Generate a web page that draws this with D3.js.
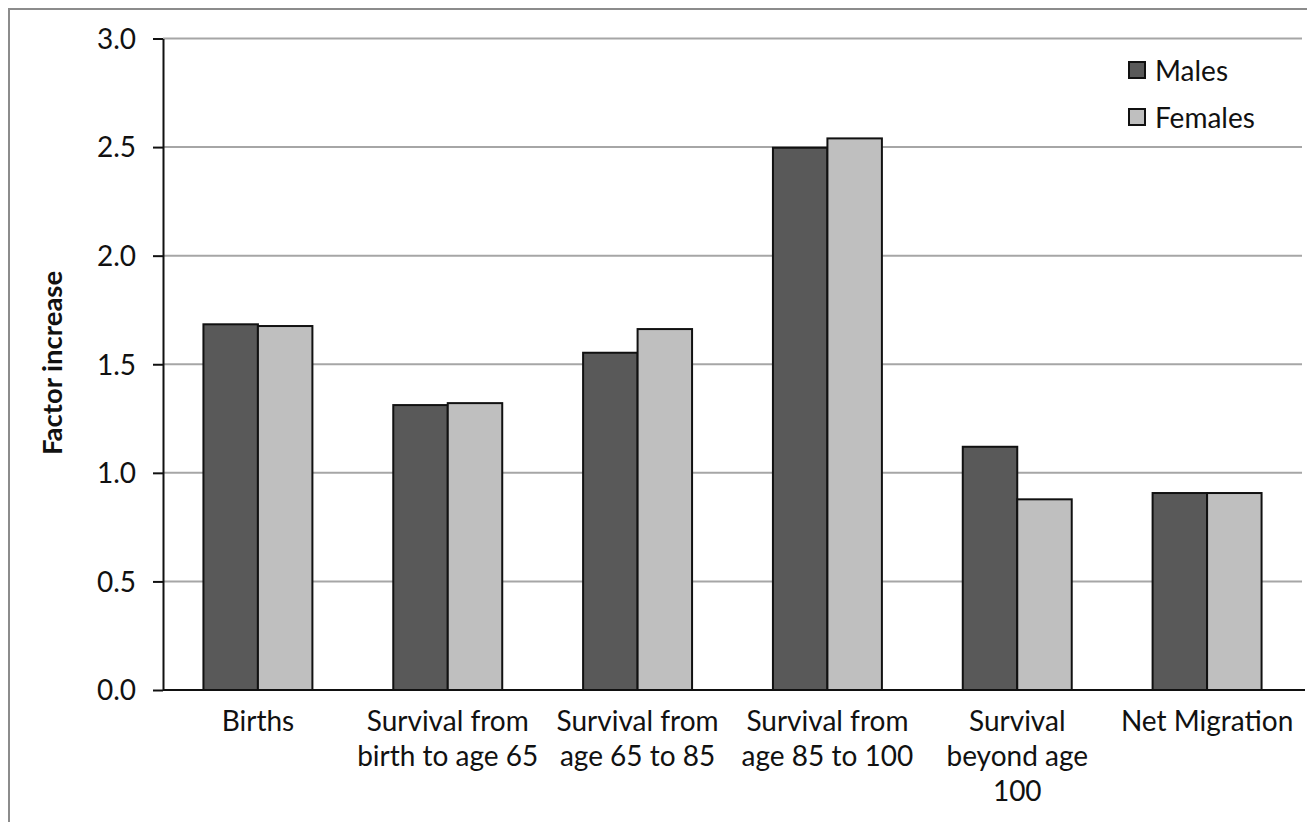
<!DOCTYPE html>
<html><head><meta charset="utf-8">
<script src="https://cdn.jsdelivr.net/npm/d3@7"></script>
<style>
body{margin:0;background:#fff}
svg{display:block}
text{font-family:Lato,"Open Sans",sans-serif;fill:#111}
</style>
</head><body>
<svg id="c" width="1307" height="822"></svg>
<script>
const categories = ["Births", "Survival from\nbirth to age 65", "Survival from\nage 65 to 85", "Survival from\nage 85 to 100", "Survival\nbeyond age\n100", "Net Migration"];
const series = ["Males", "Females"];
const males = [1.684, 1.312, 1.553, 2.497, 1.120, 0.907];
const females = [1.676, 1.321, 1.662, 2.540, 0.878, 0.907];
const yTicks = [0, 0.5, 1.0, 1.5, 2.0, 2.5, 3.0];
const colors = ["#595959", "#bfbfbf"];
const yLabel = "Factor increase";

const svg = d3.select("#c");
const mLeft = 163, mRight = 1302, mTop = 38.5, mBottom = 690;
const fs = 28;

// frame
svg.append("path").attr("d", "M9,822V9H1307").attr("fill", "none").attr("stroke", "#8c8c8c").attr("stroke-width", 2);

const y = d3.scaleLinear().domain([0, 3]).range([mBottom, mTop]);
const x = d3.scaleBand().domain(categories).range([mLeft, mRight]).paddingInner(0.426).paddingOuter(0.213);
const xs = d3.scaleBand().domain(series).range([0, x.bandwidth()]);

// gridlines
svg.append("g").selectAll("line").data(yTicks.filter(d => d > 0)).join("line")
  .attr("x1", mLeft).attr("x2", mRight).attr("y1", d => y(d)).attr("y2", d => y(d))
  .attr("stroke", "#a6a6a6").attr("stroke-width", 2);

// bars
const data = [];
categories.forEach((c, i) => {
  data.push({c, s: "Males", v: males[i]});
  data.push({c, s: "Females", v: females[i]});
});
svg.append("g").selectAll("rect").data(data).join("rect")
  .attr("x", d => x(d.c) + xs(d.s))
  .attr("y", d => y(d.v))
  .attr("width", xs.bandwidth())
  .attr("height", d => y(0) - y(d.v))
  .attr("fill", d => colors[series.indexOf(d.s)])
  .attr("stroke", "#111").attr("stroke-width", 2);

// y axis
const ya = svg.append("g").attr("transform", `translate(${mLeft},0)`)
  .call(d3.axisLeft(y).tickValues(yTicks).tickFormat(d3.format(".1f")).tickSize(10).tickSizeOuter(0).tickPadding(17));
ya.select(".domain").attr("stroke", "#111").attr("stroke-width", 2);
ya.selectAll(".tick line").attr("stroke", "#111").attr("stroke-width", 2);
ya.selectAll(".tick text").attr("font-size", fs).attr("dy", "0.35em").style("font-family", "Lato");

// x axis
const xa = svg.append("g").attr("transform", `translate(0,${mBottom})`)
  .call(d3.axisBottom(x).tickSize(0).tickSizeOuter(0).tickFormat(""));
xa.select(".domain").attr("stroke", "#111").attr("stroke-width", 2).attr("d", `M${mLeft},0H1305`);
xa.selectAll(".tick text").each(function(d) {
  const t = d3.select(this).attr("y", 0).attr("dy", null).attr("font-size", fs).style("font-family", "Lato");
  d.split("\n").forEach((line, i) => {
    t.append("tspan").attr("x", 0).attr("y", 41 + i * 35).text(line);
  });
});

// y label
svg.append("text").attr("transform", "translate(62,363) rotate(-90)")
  .attr("text-anchor", "middle").attr("font-weight", "bold").attr("font-size", 27.5).text(yLabel);

// legend
const lg = svg.append("g").selectAll("g").data(series).join("g")
  .attr("transform", (d, i) => `translate(1129,${62 + i * 47})`);
lg.append("rect").attr("width", 16).attr("height", 16)
  .attr("fill", (d, i) => colors[i]).attr("stroke", "#111").attr("stroke-width", 2);
lg.append("text").attr("x", 26).attr("y", 18.5).attr("font-size", fs).text(d => d);
</script>
</body></html>
